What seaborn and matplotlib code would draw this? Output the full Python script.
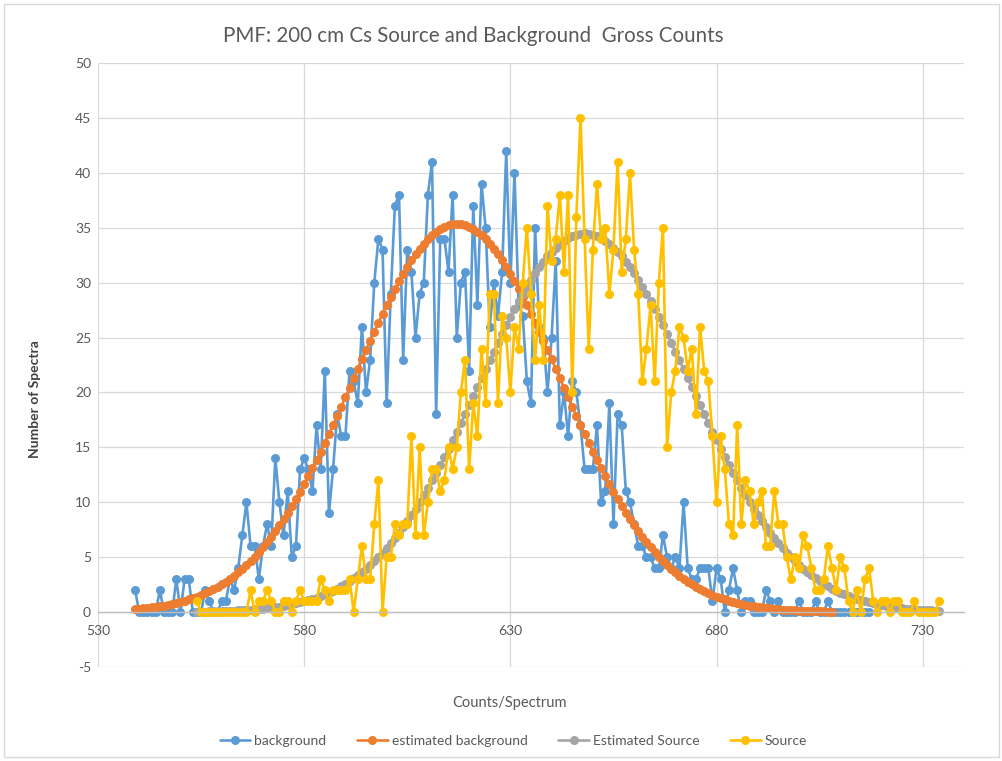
import numpy as np
import pandas as pd
import seaborn as sns
import matplotlib.pyplot as plt
from matplotlib.patches import Rectangle

# ---- data ----
# background measurement, counts/spectrum 539..717
bg_x = np.arange(539, 718)
background = [
    2, 0, 0, 0, 0, 0, 2, 0, 0, 0,
    3, 0, 3, 3, 0, 0, 0, 2, 1, 0,
    0, 1, 1, 3, 2, 4, 7, 10, 6, 6,
    3, 6, 8, 6, 14, 10, 7, 11, 5, 6,
    13, 14, 13, 11, 17, 13, 22, 9, 13, 18,
    16, 16, 22, 21, 19, 26, 20, 23, 30, 34,
    33, 19, 29, 37, 38, 23, 33, 31, 25, 29,
    30, 38, 41, 18, 34, 34, 31, 38, 25, 30,
    31, 22, 37, 28, 39, 35, 26, 30, 27, 31,
    42, 30, 40, 28, 27, 21, 19, 35, 26, 25,
    20, 25, 32, 17, 20, 16, 21, 20, 17, 13,
    13, 13, 17, 10, 11, 19, 8, 18, 17, 11,
    10, 8, 6, 6, 5, 5, 4, 4, 7, 5,
    4, 5, 4, 10, 4, 3, 3, 4, 4, 4,
    1, 4, 3, 0, 2, 4, 2, 0, 1, 1,
    0, 0, 0, 2, 1, 0, 1, 0, 0, 0,
    0, 1, 0, 0, 0, 1, 0, 0, 1, 0,
    0, 0, 0, 0, 0, 0, 0, 0, 0,
]

# estimated background, 539..708
est_bg_x = np.arange(539, 709)
est_background = [
    0.26, 0.29, 0.33, 0.37, 0.42, 0.47, 0.53, 0.59, 0.67, 0.75,
    0.83, 0.93, 1.04, 1.15, 1.28, 1.42, 1.57, 1.73, 1.91, 2.10,
    2.31, 2.54, 2.78, 3.04, 3.33, 3.63, 3.95, 4.29, 4.66, 5.05,
    5.46, 5.90, 6.36, 6.85, 7.36, 7.90, 8.46, 9.05, 9.66, 10.30,
    10.96, 11.65, 12.36, 13.09, 13.85, 14.62, 15.41, 16.22, 17.04, 17.87,
    18.72, 19.57, 20.43, 21.29, 22.15, 23.01, 23.87, 24.71, 25.55, 26.37,
    27.17, 27.95, 28.71, 29.44, 30.14, 30.81, 31.44, 32.03, 32.58, 33.09,
    33.54, 33.95, 34.31, 34.62, 34.88, 35.07, 35.22, 35.30,
    35.33,
    35.30, 35.22, 35.07, 34.88, 34.62, 34.31, 33.95, 33.54, 33.09, 32.58,
    32.03, 31.44, 30.81, 30.14, 29.44, 28.71, 27.95, 27.17, 26.37, 25.55,
    24.71, 23.87, 23.01, 22.15, 21.29, 20.43, 19.57, 18.72, 17.87, 17.04,
    16.22, 15.41, 14.62, 13.85, 13.09, 12.36, 11.65, 10.96, 10.30, 9.66,
    9.05, 8.46, 7.90, 7.36, 6.85, 6.36, 5.90, 5.46, 5.05, 4.66,
    4.29, 3.95, 3.63, 3.33, 3.04, 2.78, 2.54, 2.31, 2.10, 1.91,
    1.73, 1.57, 1.42, 1.28, 1.15, 1.04, 0.93, 0.83, 0.75, 0.67,
    0.59, 0.53, 0.47, 0.42, 0.37, 0.33, 0.29, 0.26, 0.22, 0.20,
    0.17, 0.15, 0.13, 0.12, 0.10, 0.09, 0.08, 0.07, 0.06, 0.05,
    0.04,
]

# source measurement and its estimate, 554..734
src_x = np.arange(554, 735)
est_source = [
    0.04, 0.04, 0.05, 0.06, 0.07, 0.08, 0.09, 0.10, 0.11, 0.13,
    0.15, 0.17, 0.19, 0.22, 0.25, 0.28, 0.32, 0.36, 0.40, 0.45,
    0.50, 0.56, 0.63, 0.71, 0.79, 0.88, 0.97, 1.08, 1.20, 1.32,
    1.46, 1.61, 1.78, 1.95, 2.14, 2.35, 2.57, 2.81, 3.07, 3.34,
    3.63, 3.95, 4.28, 4.63, 5.01, 5.41, 5.83, 6.27, 6.74, 7.23,
    7.74, 8.28, 8.84, 9.42, 10.03, 10.66, 11.32, 11.99, 12.68, 13.40,
    14.13, 14.88, 15.65, 16.43, 17.22, 18.02, 18.83, 19.65, 20.47, 21.29,
    22.11, 22.92, 23.73, 24.53, 25.32, 26.10, 26.85, 27.59, 28.30, 28.98,
    29.64, 30.26, 30.85, 31.41, 31.92, 32.39, 32.82, 33.20, 33.54, 33.82,
    34.06, 34.24, 34.37, 34.45,
    34.48,
    34.45, 34.37, 34.24, 34.06, 33.82, 33.54, 33.20, 32.82, 32.39, 31.92,
    31.41, 30.85, 30.26, 29.64, 28.98, 28.30, 27.59, 26.85, 26.10, 25.32,
    24.53, 23.73, 22.92, 22.11, 21.29, 20.47, 19.65, 18.83, 18.02, 17.22,
    16.43, 15.65, 14.88, 14.13, 13.40, 12.68, 11.99, 11.32, 10.66, 10.03,
    9.42, 8.84, 8.28, 7.74, 7.23, 6.74, 6.27, 5.83, 5.41, 5.01,
    4.63, 4.28, 3.95, 3.63, 3.34, 3.07, 2.81, 2.57, 2.35, 2.14,
    1.95, 1.78, 1.61, 1.46, 1.32, 1.20, 1.08, 0.97, 0.88, 0.79,
    0.71, 0.63, 0.56, 0.50, 0.45, 0.40, 0.36, 0.32, 0.28, 0.25,
    0.22, 0.19, 0.17, 0.15, 0.13, 0.11,
]
source = [
    1, 0, 0, 0, 0, 0, 0, 0, 0, 0,
    0, 0, 0, 2, 0, 1, 1, 2, 1, 0,
    0, 1, 1, 0, 1, 2, 1, 1, 1, 1,
    3, 2, 1, 2, 2, 2, 2, 3, 0, 3,
    6, 3, 3, 8, 12, 0, 5, 5, 8, 7,
    8, 8, 16, 7, 15, 7, 10, 13, 13, 11,
    12, 15, 13, 15, 20, 23, 13, 19, 16, 24,
    19, 29, 29, 19, 27, 25, 20, 26, 24, 30,
    35, 29, 23, 28, 23, 37, 32, 34, 38, 31,
    38, 20, 36, 45, 34, 24, 33, 39, 34, 35,
    29, 33, 41, 31, 34, 40, 33, 29, 21, 24,
    28, 21, 30, 35, 15, 20, 22, 26, 25, 22,
    24, 18, 26, 22, 21, 16, 10, 16, 13, 8,
    7, 17, 8, 12, 11, 8, 10, 11, 6, 6,
    11, 8, 8, 5, 3, 5, 4, 7, 6, 4,
    2, 2, 3, 6, 4, 2, 5, 4, 1, 0,
    2, 0, 3, 4, 1, 0, 1, 1, 0, 1,
    1, 0, 0, 0, 1, 0, 0, 0, 0, 0,
    1,
]

assert len(background) == len(bg_x)
assert len(est_background) == len(est_bg_x)
assert len(source) == len(src_x) and len(est_source) == len(src_x)

series = [
    ('background', bg_x, background, '#5B9BD5'),
    ('estimated background', est_bg_x, est_background, '#ED7D31'),
    ('Estimated Source', src_x, est_source, '#A5A5A5'),
    ('Source', src_x, source, '#FFC000'),
]

sns.set_theme(style='white')
plt.rcParams['font.family'] = ['Lato', 'DejaVu Sans']
plt.rcParams['axes.unicode_minus'] = False

fig = plt.figure(figsize=(10.03, 7.61), dpi=100)
ax = fig.add_axes([0.0977, 0.1235, 0.8634, 0.7937])

for name, xs, ys, col in series:
    sns.lineplot(x=xs, y=ys, ax=ax, color=col, label=name, marker='o',
                 markersize=6.5, markeredgewidth=0, linewidth=1.9, sort=False)

ax.set_xlim(530, 740)
ax.set_ylim(-5, 50)
ax.set_xticks(np.arange(530, 731, 50))
ax.set_yticks(np.arange(-5, 51, 5))
ax.grid(True, color='#D9D9D9', linewidth=0.9)
ax.set_axisbelow(True)
for s in ['top', 'right', 'left']:
    ax.spines[s].set_visible(False)
ax.spines['bottom'].set_position(('data', 0))
ax.spines['bottom'].set_color('#BFBFBF')
ax.spines['bottom'].set_linewidth(1.0)
ax.tick_params(axis='both', length=0, labelsize=10, labelcolor='#595959')
ax.tick_params(axis='x', pad=9)
ax.tick_params(axis='y', pad=5)
ax.set_xlabel('')
ax.set_ylabel('')

fig.text(0.472, 0.953, 'PMF: 200 cm Cs Source and Background  Gross Counts',
         ha='center', va='center', fontsize=14.8, color='#595959')
fig.text(0.508, 0.076, 'Counts/Spectrum', ha='center', va='center',
         fontsize=10.5, color='#595959')
fig.text(0.035, 0.475, 'Number of Spectra', ha='center', va='center',
         rotation=90, fontsize=10, color='#404040', fontweight='bold')

ax.legend(loc='center', bbox_to_anchor=(0.512, 0.026), bbox_transform=fig.transFigure,
          ncol=4, frameon=False, fontsize=10, handlelength=2.2, handletextpad=0.3,
          columnspacing=2.2, labelcolor='#595959')

fig.patches.append(Rectangle((0.004, 0.005), 0.992, 0.99, transform=fig.transFigure,
                             fill=False, edgecolor='#D9D9D9', linewidth=1.0))

fig.savefig('out.png', dpi=100)
